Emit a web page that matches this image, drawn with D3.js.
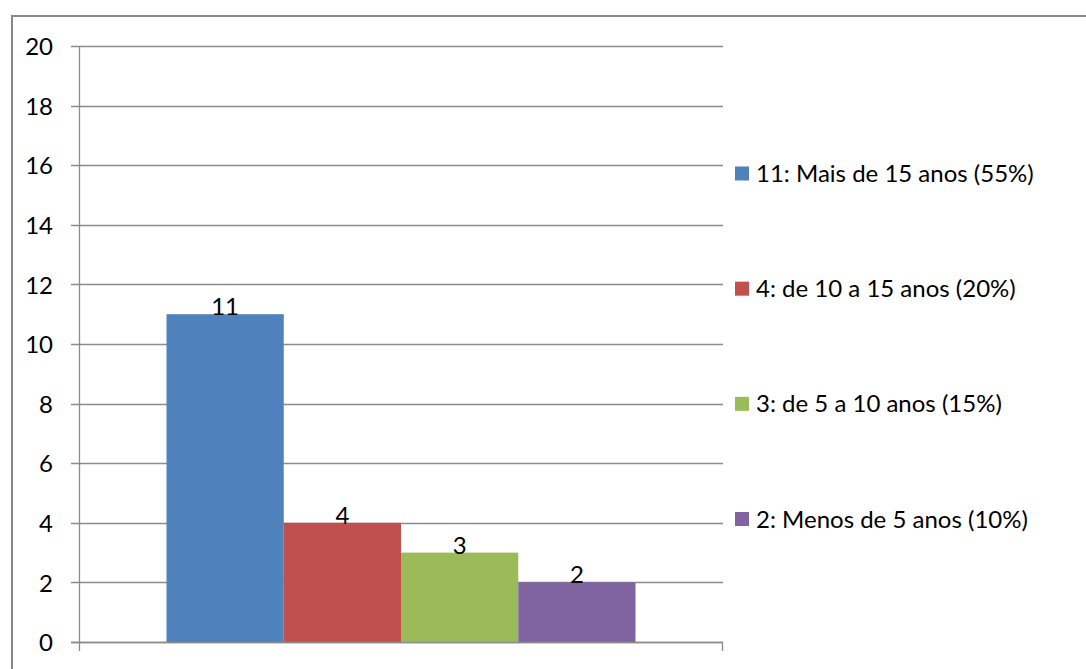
<!DOCTYPE html>
<html>
<head>
<meta charset="utf-8">
<script src="https://cdn.jsdelivr.net/npm/d3@7"></script>
<style>
  html, body { margin: 0; padding: 0; background: #fff; }
  svg { display: block; }
  text { font-family: Lato, "Liberation Sans", Arial, sans-serif; fill: #000; }
</style>
</head>
<body>
<svg id="chart" width="1086" height="669"></svg>
<script>
// Respondents by years of experience
const categories = ["11: Mais de 15 anos (55%)", "4: de 10 a 15 anos (20%)", "3: de 5 a 10 anos (15%)", "2: Menos de 5 anos (10%)"];
const values = [11, 4, 3, 2];
const colors = ["#4f81bd", "#c0504d", "#9bbb59", "#8064a2"];
const yTicks = [0, 2, 4, 6, 8, 10, 12, 14, 16, 18, 20];

const svg = d3.select("#chart");
const W = 1086, H = 669;
const plot = { left: 79, right: 723, top: 46, bottom: 642 };
const fontSize = 24;

// outer frame (left and top edges visible)
svg.append("path")
  .attr("d", `M12,${H + 2} L12,16 L${W + 2},16`)
  .attr("fill", "none").attr("stroke", "#878787").attr("stroke-width", 2);

const y = d3.scaleLinear().domain([0, 20]).range([plot.bottom, plot.top]);

// single group with four series bars, 150% gap width
const x0 = d3.scaleBand().domain(["g"]).range([plot.left, plot.right]).paddingOuter(0.1866).paddingInner(0);
const x1 = d3.scaleBand().domain(categories).range([0, x0.bandwidth()]).padding(0);

// horizontal gridlines
svg.append("g").selectAll("line").data(yTicks).join("line")
  .attr("x1", plot.left - 8).attr("x2", plot.right)
  .attr("y1", d => Math.round(y(d)) + 0.5).attr("y2", d => Math.round(y(d)) + 0.5)
  .attr("stroke", "#8c8c8c").attr("stroke-width", 1.3);

// y axis labels
const yAxis = d3.axisLeft(y).tickValues(yTicks).tickSize(0).tickPadding(0);
const gy = svg.append("g").attr("transform", `translate(${plot.left - 26},0)`).call(yAxis);
gy.select(".domain").remove();
gy.selectAll("text").attr("font-size", fontSize).attr("fill", "#000")
  .style("font-family", "Lato, 'Liberation Sans', Arial, sans-serif").attr("dy", "0.36em");

// bars
svg.append("g").selectAll("rect").data(values).join("rect")
  .attr("x", (d, i) => x0("g") + x1(categories[i]))
  .attr("width", x1.bandwidth())
  .attr("y", d => y(d))
  .attr("height", d => y(0) - y(d))
  .attr("fill", (d, i) => colors[i]);

// value labels
svg.append("g").selectAll("text").data(values).join("text")
  .attr("x", (d, i) => x0("g") + x1(categories[i]) + x1.bandwidth() / 2)
  .attr("y", d => y(d) + 1)
  .attr("text-anchor", "middle")
  .attr("font-size", fontSize)
  .text(d => d);

// axis lines
svg.append("line")
  .attr("x1", plot.left + 0.5).attr("x2", plot.left + 0.5)
  .attr("y1", plot.top).attr("y2", plot.bottom + 9)
  .attr("stroke", "#8c8c8c").attr("stroke-width", 1.3);
svg.append("line")
  .attr("x1", plot.left - 8).attr("x2", plot.right)
  .attr("y1", Math.round(y(0)) + 0.5).attr("y2", Math.round(y(0)) + 0.5)
  .attr("stroke", "#8c8c8c").attr("stroke-width", 1.3);
svg.append("line")
  .attr("x1", plot.right - 0.5).attr("x2", plot.right - 0.5)
  .attr("y1", plot.bottom).attr("y2", plot.bottom + 9)
  .attr("stroke", "#8c8c8c").attr("stroke-width", 1.3);

// legend
const legendY = d3.scalePoint().domain(categories).range([173.5, 519]);
const lg = svg.append("g").selectAll("g").data(categories).join("g")
  .attr("transform", d => `translate(735,${legendY(d)})`);
lg.append("rect").attr("x", 0).attr("y", -7).attr("width", 14).attr("height", 14)
  .attr("fill", (d, i) => colors[i]);
lg.append("text").attr("x", 21).attr("y", 0).attr("dy", "0.36em")
  .attr("font-size", fontSize).text(d => d);
</script>
</body>
</html>
